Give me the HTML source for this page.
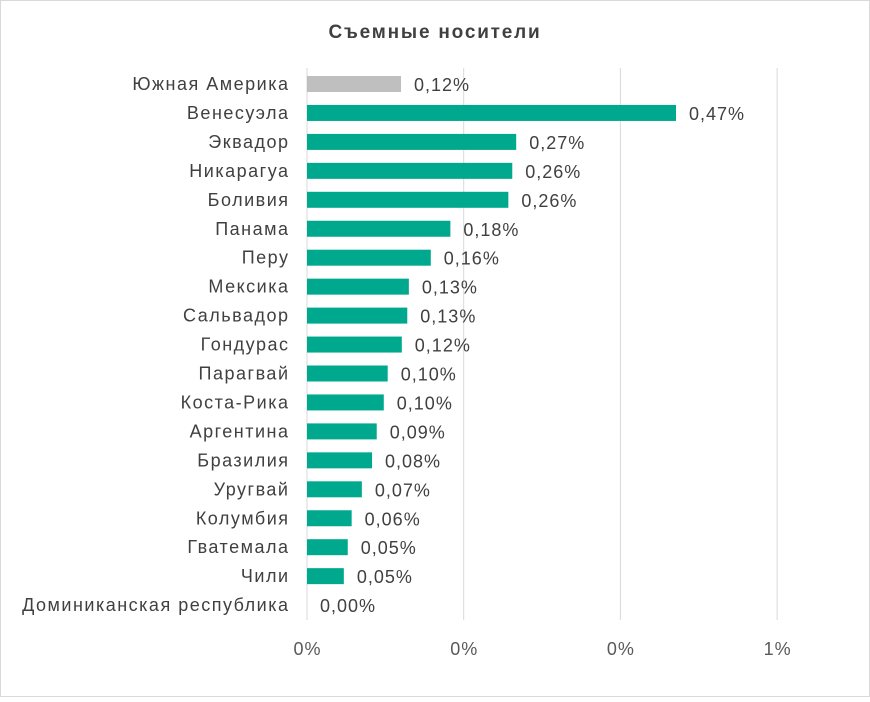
<!DOCTYPE html>
<html><head><meta charset="utf-8"><style>
body{margin:0;background:#fff;font-family:"Liberation Sans",sans-serif;}
</style></head><body>
<svg width="870" height="697" xmlns="http://www.w3.org/2000/svg">
<rect x="0.5" y="0.5" width="869" height="696" fill="#fff" stroke="#d9d9d9"/>
<text x="435" y="38" text-anchor="middle" font-size="19" font-weight="bold" letter-spacing="1.8" fill="#404040">Съемные носители</text>
<g id="grid"></g><g id="bars"></g>
</svg>
<script>
const categories=["Южная Америка","Венесуэла","Эквадор","Никарагуа","Боливия","Панама","Перу","Мексика","Сальвадор","Гондурас","Парагвай","Коста-Рика","Аргентина","Бразилия","Уругвай","Колумбия","Гватемала","Чили","Доминиканская республика"];
const values=[0.12,0.471,0.267,0.262,0.257,0.183,0.158,0.130,0.128,0.121,0.103,0.098,0.089,0.083,0.070,0.057,0.052,0.047,0.0];
const valueLabels=["0,12%","0,47%","0,27%","0,26%","0,26%","0,18%","0,16%","0,13%","0,13%","0,12%","0,10%","0,10%","0,09%","0,08%","0,07%","0,06%","0,05%","0,05%","0,00%"];
const ticks=[0,0.2,0.4,0.6];
const tickLabels=["0%","0%","0%","1%"];
const NS="http://www.w3.org/2000/svg";
const x0=307,pxPer=783.5;
const xs=v=>x0+v*pxPer;
const ys=i=>84+i*28.95;
const grid=document.getElementById('grid'),bars=document.getElementById('bars');
function mk(tag,attrs,parent,txt){const e=document.createElementNS(NS,tag);for(const k in attrs)e.setAttribute(k,attrs[k]);if(txt!==undefined)e.textContent=txt;parent.appendChild(e);return e;}
ticks.forEach((t,i)=>{
 const l=mk('line',{x1:xs(t),x2:xs(t),y1:68,y2:620,stroke:'#d9d9d9','stroke-width':1},grid);
 
 
 const tx=mk('text',{x:xs(t)+0.5,y:655,'text-anchor':'middle','font-size':18,'letter-spacing':1,fill:'#595959'},grid,tickLabels[i]);
 
 
});
categories.forEach((c,i)=>{
 const y=ys(i);
 const lab=mk('text',{x:289.5,y:y+6,'text-anchor':'end','font-size':18,'letter-spacing':1.5,fill:'#404040'},bars,c);
 
 
 const w=xs(values[i])-x0;
 if(w>0){
  const r=mk('rect',{x:x0,y:y-8,width:w,height:16,fill:i===0?'#bfbfbf':'#00a88e'},bars);
  
  
 }
 const v=mk('text',{x:xs(values[i])+13,y:y+7,'font-size':18,'letter-spacing':1,fill:'#404040'},bars,valueLabels[i]);
 
 
});
</script>
</body></html>
